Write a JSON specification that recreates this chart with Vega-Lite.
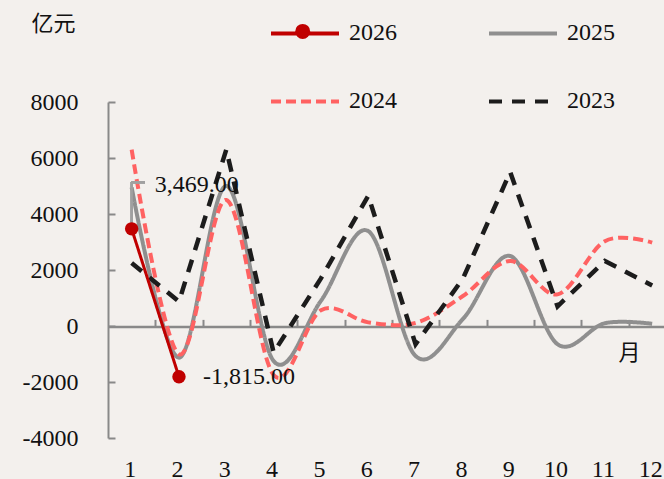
{
  "$schema": "https://vega.github.io/schema/vega-lite/v6.json",
  "width": 556,
  "height": 336,
  "autosize": {"type": "none"},
  "padding": {"left": 108, "top": 102, "right": 0, "bottom": 41},
  "background": "#f3f0ed",
  "config": {"view": {"stroke": null}, "font": "Liberation Serif"},
  "data": {
    "values": [
      {"month": 1, "year": "2026", "value": 3469},
      {"month": 2, "year": "2026", "value": -1815},
      {"month": 1, "year": "2025", "value": 4950},
      {"month": 2, "year": "2025", "value": -1130},
      {"month": 3, "year": "2025", "value": 5000},
      {"month": 4, "year": "2025", "value": -1250},
      {"month": 5, "year": "2025", "value": 900},
      {"month": 6, "year": "2025", "value": 3390},
      {"month": 7, "year": "2025", "value": -1070},
      {"month": 8, "year": "2025", "value": 250},
      {"month": 9, "year": "2025", "value": 2500},
      {"month": 10, "year": "2025", "value": -650},
      {"month": 11, "year": "2025", "value": 100},
      {"month": 12, "year": "2025", "value": 80},
      {"month": 1, "year": "2024", "value": 6300},
      {"month": 2, "year": "2024", "value": -1010},
      {"month": 3, "year": "2024", "value": 4500},
      {"month": 4, "year": "2024", "value": -1750},
      {"month": 5, "year": "2024", "value": 560},
      {"month": 6, "year": "2024", "value": 130},
      {"month": 7, "year": "2024", "value": 110},
      {"month": 8, "year": "2024", "value": 1070},
      {"month": 9, "year": "2024", "value": 2320},
      {"month": 10, "year": "2024", "value": 1130},
      {"month": 11, "year": "2024", "value": 3030},
      {"month": 12, "year": "2024", "value": 2980},
      {"month": 1, "year": "2023", "value": 2250},
      {"month": 2, "year": "2023", "value": 870},
      {"month": 3, "year": "2023", "value": 6300},
      {"month": 4, "year": "2023", "value": -950},
      {"month": 5, "year": "2023", "value": 1700},
      {"month": 6, "year": "2023", "value": 4650},
      {"month": 7, "year": "2023", "value": -650},
      {"month": 8, "year": "2023", "value": 1690},
      {"month": 9, "year": "2023", "value": 5500},
      {"month": 10, "year": "2023", "value": 700},
      {"month": 11, "year": "2023", "value": 2320},
      {"month": 12, "year": "2023", "value": 1450}
    ]
  },
  "resolve": {"axis": {"x": "independent"}},
  "encoding": {
    "x": {"field": "month", "type": "quantitative", "axis": null, "scale": {"domain": [0.5, 12.25], "nice": false, "zero": false}},
    "y": {
      "field": "value", "type": "quantitative",
      "scale": {"domain": [-4000, 8000], "nice": false, "zero": false},
      "axis": {
        "values": [-4000, -2000, 0, 2000, 4000, 6000, 8000],
        "labelExpr": "'' + datum.value",
        "grid": false,
        "domainColor": "#898989", "domainWidth": 2,
        "tickColor": "#898989", "tickWidth": 2, "tickSize": -7,
        "labelPadding": 37,
        "labelFont": "Liberation Serif", "labelFontSize": 24, "labelColor": "#111",
        "title": "亿元", "titleAngle": 0, "titleX": -55, "titleY": -79,
        "titleAlign": "center", "titleBaseline": "middle",
        "titleFont": "Noto Sans CJK SC", "titleFontSize": 22, "titleFontWeight": "normal", "titleColor": "#111"
      }
    }
  },
  "layer": [
    {
      "transform": [{"filter": "datum.year == '2025'"}],
      "mark": {"type": "line", "interpolate": "cardinal", "strokeWidth": 4},
      "encoding": {
        "x": {"field": "month", "type": "quantitative", "axis": {
          "orient": "top", "offset": -224.4, "values": [1.5, 2.5, 3.5, 4.5, 5.5, 6.5, 7.5, 8.5, 9.5, 10.5, 11.5],
          "labels": false, "grid": false, "domainColor": "#898989", "domainWidth": 2.5,
          "tickColor": "#898989", "tickWidth": 2, "tickSize": 7, "title": null
        }},
        "color": {"field": "year", "type": "nominal",
          "scale": {"domain": ["2026", "2024", "2025", "2023"], "range": ["#c00000", "#ff6262", "#8f8f8f", "#1c1c1c"]},
          "legend": {
            "orient": "none", "legendX": 161, "legendY": -104.6, "columns": 2,
            "title": null, "symbolType": "stroke", "symbolSize": 4624, "symbolStrokeWidth": 4,
            "labelFont": "Liberation Serif", "labelFontSize": 24, "labelColor": "#111", "labelOffset": 8,
            "columnPadding": 84, "rowPadding": 20, "padding": 0
          }},
        "strokeDash": {"field": "year", "type": "nominal",
          "scale": {"domain": ["2026", "2024", "2025", "2023"], "range": [[1, 0], [10, 5], [1, 0], [13, 10]]}}
      }
    },
    {
      "transform": [{"filter": "datum.year == '2024'"}],
      "mark": {"type": "line", "interpolate": "cardinal", "strokeWidth": 4},
      "encoding": {
        "x": {"field": "month", "type": "quantitative", "axis": {
          "orient": "bottom", "values": [1, 2, 3, 4, 5, 6, 7, 8, 9, 10, 11, 12], "format": "d",
          "domain": false, "ticks": false, "grid": false, "labelPadding": 19, "labelOffset": -2,
          "labelFont": "Liberation Serif", "labelFontSize": 24, "labelColor": "#111", "labelFlush": false,
          "title": "月", "titleX": 521, "titleY": -86, "titleAlign": "center", "titleBaseline": "middle",
          "titleFont": "Noto Sans CJK SC", "titleFontSize": 22, "titleFontWeight": "normal", "titleColor": "#111"
        }},
        "color": {"field": "year", "type": "nominal"},
        "strokeDash": {"field": "year", "type": "nominal"}
      }
    },
    {
      "transform": [{"filter": "datum.year == '2023'"}],
      "mark": {"type": "line", "interpolate": "linear", "strokeWidth": 4.5},
      "encoding": {
        "color": {"field": "year", "type": "nominal"},
        "strokeDash": {"field": "year", "type": "nominal"}
      }
    },
    {
      "mark": {"type": "rule", "color": "#a0a0a0", "strokeWidth": 1.5},
      "encoding": {"x": {"datum": 1, "axis": null}, "y": {"datum": 3469}, "y2": {"datum": 5130}}
    },
    {
      "mark": {"type": "rule", "color": "#a0a0a0", "strokeWidth": 1.5},
      "encoding": {"x": {"datum": 1, "axis": null}, "x2": {"datum": 1.28}, "y": {"datum": 5130}}
    },
    {
      "transform": [{"filter": "datum.year == '2026'"}],
      "mark": {"type": "line", "interpolate": "linear", "strokeWidth": 3},
      "encoding": {
        "color": {"field": "year", "type": "nominal"},
        "strokeDash": {"field": "year", "type": "nominal"}
      }
    },
    {
      "transform": [{"filter": "datum.year == '2026'"}],
      "mark": {"type": "point", "filled": true, "opacity": 1, "size": 180, "color": "#c00000"},
      "encoding": {
        "shape": {"field": "year", "type": "nominal",
          "scale": {"domain": ["2026"], "range": ["circle"]},
          "legend": {
            "orient": "none", "legendX": 187.2, "legendY": -78.1, "title": null,
            "symbolSize": 225, "symbolFillColor": "#c00000", "symbolStrokeWidth": 0, "symbolOpacity": 1,
            "labelFontSize": 1, "labelColor": "transparent", "labelOffset": 0, "padding": 0
          }}
      }
    },
    {
      "transform": [
        {"filter": "datum.year == '2026' && datum.month == 1"},
        {"calculate": "replace(format(datum.value, ',.2f'), '\u2212', '-')", "as": "label"}
      ],
      "mark": {"type": "text", "align": "left", "baseline": "middle", "dx": 23, "dy": -44, "font": "Liberation Serif", "fontSize": 24, "color": "#111"},
      "encoding": {"text": {"field": "label", "type": "nominal"}}
    },
    {
      "transform": [
        {"filter": "datum.year == '2026' && datum.month == 2"},
        {"calculate": "replace(format(datum.value, ',.2f'), '\u2212', '-')", "as": "label"}
      ],
      "mark": {"type": "text", "align": "left", "baseline": "middle", "dx": 24, "dy": 0, "font": "Liberation Serif", "fontSize": 24, "color": "#111"},
      "encoding": {"text": {"field": "label", "type": "nominal"}}
    }
  ]
}
